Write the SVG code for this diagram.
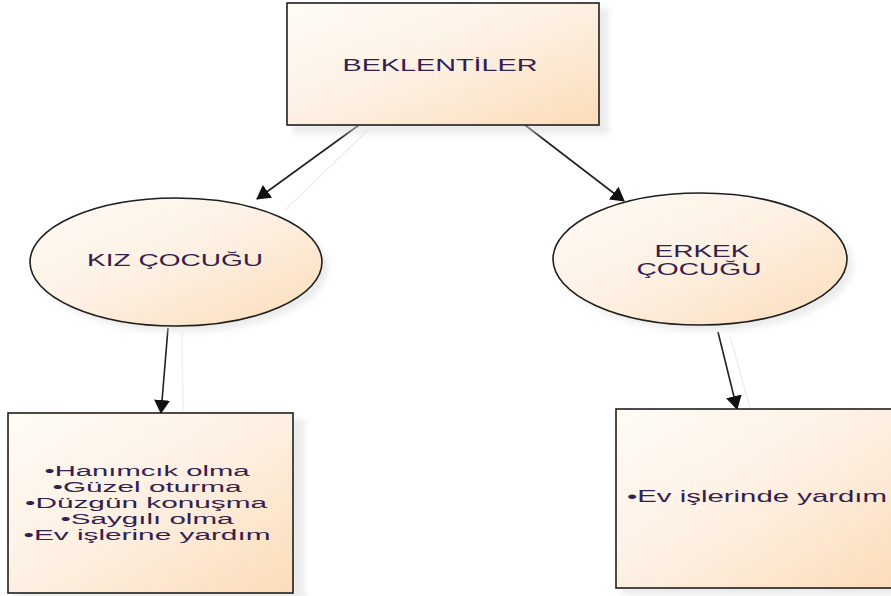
<svg xmlns="http://www.w3.org/2000/svg" width="891" height="596" viewBox="0 0 891 596">
<style>
.shape{stroke:#1e1e1e;stroke-width:1.6}
.shadow{fill:#d8d8d8;opacity:0.5}
.lbl{font-family:"Liberation Sans",Arial,sans-serif;font-size:17px;fill:#33204d;text-anchor:middle}
.list{font-size:13.8px}
.conn{stroke:#202020;stroke-width:1.6;fill:none;marker-end:url(#arr)}
.ghost{stroke:#eeeeee;stroke-width:1.5;fill:none}
</style>
<defs>
<linearGradient id="g" x1="0" y1="0" x2="1" y2="1">
<stop offset="0" stop-color="#fffbf6"/>
<stop offset="0.5" stop-color="#fdf0e2"/>
<stop offset="1" stop-color="#fcdcb8"/>
</linearGradient>
<filter id="blur" x="-10%" y="-10%" width="130%" height="130%"><feGaussianBlur stdDeviation="3"/></filter>
<marker id="arr" viewBox="0 0 14 16" refX="13" refY="8" markerWidth="14" markerHeight="16" markerUnits="userSpaceOnUse" orient="auto">
<path d="M0,0 L14,8 L0,16 Z" fill="#111"/>
</marker>
</defs>
<rect width="891" height="596" fill="#fff"/>

<g id="connectors">
<line class="ghost" x1="368" y1="130" x2="285" y2="210"/>
<line class="ghost" x1="182" y1="332" x2="183" y2="412"/>
<line class="ghost" x1="730" y1="336" x2="750" y2="408"/>
<line class="conn" x1="359" y1="125" x2="257" y2="199"/>
<line class="conn" x1="525" y1="125" x2="624" y2="201"/>
<line class="conn" x1="168" y1="328" x2="161" y2="413"/>
<line class="conn" x1="718" y1="332" x2="737" y2="409"/>
</g>

<g id="beklentiler">
<rect class="shadow" x="293" y="8" width="316" height="126" filter="url(#blur)"/>
<rect class="shape" x="287" y="3" width="312" height="122" fill="url(#g)"/>
<text class="lbl" x="440" y="71" textLength="195" lengthAdjust="spacingAndGlyphs">BEKLENTİLER</text>
</g>

<g id="kiz">
<ellipse class="shadow" cx="182" cy="268" rx="146" ry="64" filter="url(#blur)"/>
<ellipse class="shape" cx="176" cy="262" rx="146" ry="64" fill="url(#g)"/>
<text class="lbl" x="175" y="266" textLength="176" lengthAdjust="spacingAndGlyphs">KIZ ÇOCUĞU</text>
</g>

<g id="erkek">
<ellipse class="shadow" cx="706" cy="265" rx="147" ry="66" filter="url(#blur)"/>
<ellipse class="shape" cx="700" cy="259" rx="147" ry="66" fill="url(#g)"/>
<text class="lbl" x="702" y="257" textLength="95" lengthAdjust="spacingAndGlyphs">ERKEK</text>
<text class="lbl" x="699" y="275" textLength="125" lengthAdjust="spacingAndGlyphs">ÇOCUĞU</text>
</g>

<g id="kiz-list">
<rect class="shadow" x="14" y="419" width="291" height="180" filter="url(#blur)"/>
<rect class="shape" x="8" y="413" width="285" height="180" fill="url(#g)"/>
<text class="lbl list" x="147" y="476" textLength="205" lengthAdjust="spacingAndGlyphs">•Hanımcık olma</text>
<text class="lbl list" x="147" y="492" textLength="189" lengthAdjust="spacingAndGlyphs">•Güzel oturma</text>
<text class="lbl list" x="146" y="508" textLength="242" lengthAdjust="spacingAndGlyphs">•Düzgün konuşma</text>
<text class="lbl list" x="147" y="524" textLength="173" lengthAdjust="spacingAndGlyphs">•Saygılı olma</text>
<text class="lbl list" x="147" y="540" textLength="247" lengthAdjust="spacingAndGlyphs">•Ev işlerine yardım</text>
</g>

<g id="erkek-list">
<rect class="shadow" x="622" y="415" width="280" height="180" filter="url(#blur)"/>
<rect class="shape" x="616" y="409" width="280" height="179" fill="url(#g)"/>
<text class="lbl" x="757" y="502" textLength="260" lengthAdjust="spacingAndGlyphs">•Ev işlerinde yardım</text>
</g>
</svg>
